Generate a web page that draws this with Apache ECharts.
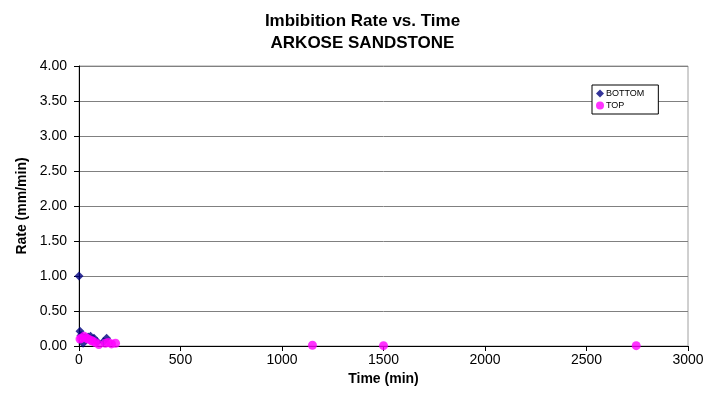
<!DOCTYPE html>
<html><head><meta charset="utf-8">
<script src="https://cdn.jsdelivr.net/npm/echarts@6/dist/echarts.min.js"></script>
<style>html,body{margin:0;padding:0;background:#fff}#c{width:725px;height:409px}</style>
</head><body><div id="c"></div>
<script>
const titleLines = ['Imbibition Rate vs. Time', 'ARKOSE SANDSTONE'];
const xTitle = 'Time (min)';
const yTitle = 'Rate (mm/min)';
const bottomTime = [0, 5, 10, 20, 30, 45, 57, 74, 90, 120, 136];
const bottomRate = [1.0, 0.21, 0.15, 0.04, 0.12, 0.13, 0.14, 0.11, 0.06, 0.06, 0.11];
const topTime = [5, 12, 25, 38, 45, 60, 66, 80, 98, 130, 144, 160, 180, 1150, 1500, 2745];
const topRate = [0.1, 0.11, 0.14, 0.11, 0.1, 0.08, 0.07, 0.05, 0.02, 0.04, 0.05, 0.03, 0.04, 0.01, 0.005, 0.005];

const font = 'Liberation Sans, Arial, sans-serif';
const chart = echarts.init(document.getElementById('c'));
chart.setOption({
  animation: false,
  backgroundColor: '#fff',
  title: {
    text: titleLines.join('\n'), left: 'center', top: 5,
    textStyle: {fontFamily: font, fontSize: 17, fontWeight: 'bold', color: '#000', lineHeight: 22}
  },
  legend: {
    left: 592, top: 85, orient: 'vertical', backgroundColor: '#fff',
    borderColor: '#000', borderWidth: 1, borderRadius: 0,
    padding: [4, 14, 4, 4], itemGap: 3, itemWidth: 8, itemHeight: 8,
    textStyle: {fontFamily: font, fontSize: 9, color: '#000', padding: [0, 0, 0, -3]},
    data: [{name: 'BOTTOM', icon: 'diamond'}, {name: 'TOP', icon: 'circle'}]
  },
  grid: {left: 79, right: 37, top: 66, bottom: 63, show: true, borderColor: '#a0a0a0', borderWidth: 1},
  xAxis: {
    type: 'value', min: 0, max: 3000, interval: 500,
    name: xTitle, nameLocation: 'middle', nameGap: 24,
    nameTextStyle: {fontFamily: font, fontSize: 14, fontWeight: 'bold', color: '#000'},
    axisLine: {show: true, lineStyle: {color: '#000', width: 1}},
    axisTick: {show: true, inside: false, length: 5, lineStyle: {color: '#000'}},
    axisLabel: {fontFamily: font, fontSize: 14, color: '#000', margin: 7, formatter: v => String(v)},
    splitLine: {show: false}
  },
  yAxis: {
    type: 'value', min: 0, max: 4, interval: 0.5,
    name: yTitle, nameLocation: 'middle', nameGap: 48, nameRotate: 90,
    nameTextStyle: {fontFamily: font, fontSize: 14, fontWeight: 'bold', color: '#000'},
    axisLine: {show: true, lineStyle: {color: '#000', width: 1}},
    axisTick: {show: true, inside: false, length: 5, lineStyle: {color: '#000'}},
    axisLabel: {fontFamily: font, fontSize: 14, color: '#000', margin: 12, formatter: v => v.toFixed(2)},
    splitLine: {show: true, lineStyle: {color: '#808080', width: 1}}
  },
  series: [
    {name: 'BOTTOM', type: 'scatter', symbol: 'diamond', symbolSize: 9,
     itemStyle: {color: '#000080'}, data: bottomTime.map((t, i) => [t, bottomRate[i]])},
    {name: 'TOP', type: 'scatter', symbol: 'circle', symbolSize: 9,
     itemStyle: {color: '#ff00ff'}, data: topTime.map((t, i) => [t, topRate[i]])}
  ]
});
</script></body></html>
